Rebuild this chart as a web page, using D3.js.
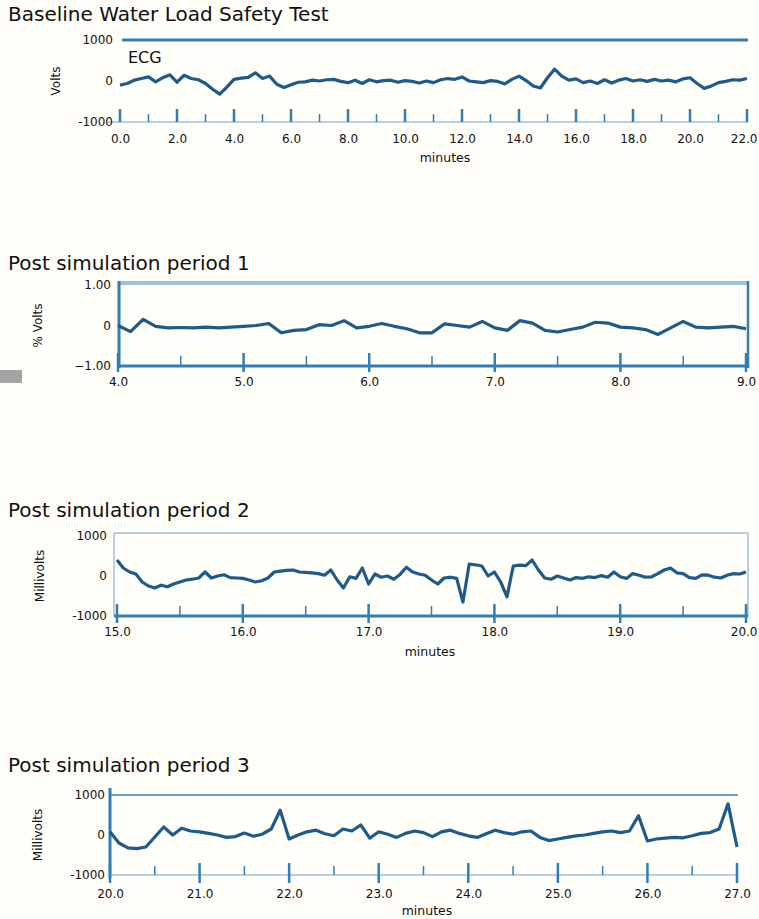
<!DOCTYPE html>
<html><head><meta charset="utf-8">
<script src="https://cdn.jsdelivr.net/npm/d3@7"></script>
<style>
body{margin:0;background:#fffef8}
svg{display:block}
text{font-family:"DejaVu Sans","Liberation Sans",Arial,sans-serif;fill:#111}
</style></head>
<body><svg id="c" width="759" height="919"></svg>
<script>
// ---------- data ----------
const panelTitles = ["Baseline Water Load Safety Test","Post simulation period 1","Post simulation period 2","Post simulation period 3"];
const yTitles = ["Volts","% Volts","Millivolts","Millivolts"];
const xTitle = "minutes";
const channelLabel = "ECG";

const baselineTicks = [0,2,4,6,8,10,12,14,16,18,20,22];
const period1Ticks = [4,5,6,7,8,9];
const period2Ticks = [15,16,17,18,19,20];
const period3Ticks = [20,21,22,23,24,25,26,27];

const baselineYTicks = [-1000,0,1000];
const period1YTicks = [-1,0,1];
const period2YTicks = [-1000,0,1000];
const period3YTicks = [-1000,0,1000];

// sampled every 0.25 min from 0
const baselineValues = [-100,-60,20,60,100,-20,80,150,-30,140,60,30,-60,-200,-320,-150,40,70,90,200,60,120,-80,-160,-90,-30,-20,20,0,30,40,-10,-40,20,-60,30,-20,10,20,-30,10,-10,-50,0,-40,30,60,40,100,0,-20,-40,10,-10,-70,40,120,10,-120,-170,80,290,120,20,50,-40,0,-60,30,-50,20,60,0,30,-10,40,0,20,-20,50,80,-60,-180,-120,-40,-10,30,20,60];
// sampled every 0.1 min from 4
const period1Values = [0,-0.15,0.15,-0.02,-0.06,-0.05,-0.06,-0.04,-0.06,-0.04,-0.02,0,0.05,-0.18,-0.12,-0.1,0.02,0,0.12,-0.06,-0.02,0.05,-0.02,-0.08,-0.18,-0.18,0.04,0,-0.04,0.1,-0.06,-0.12,0.12,0.06,-0.12,-0.16,-0.1,-0.04,0.08,0.06,-0.04,-0.06,-0.1,-0.22,-0.06,0.1,-0.04,-0.06,-0.04,-0.02,-0.08];
// sampled every 0.05 min from 15
const period2Values = [400,200,100,50,-150,-250,-300,-230,-270,-200,-150,-100,-80,-50,100,-50,0,30,-40,-50,-60,-100,-150,-120,-50,100,120,140,150,100,90,80,60,20,150,-100,-300,-20,-60,200,-200,50,-30,0,-80,40,220,100,50,20,-100,-200,-50,-30,-60,-650,300,280,250,0,100,-150,-520,250,270,260,400,150,-50,-80,0,-50,-100,-40,-60,-20,-40,10,-30,100,-20,-60,60,20,-30,-20,60,150,200,80,60,-40,-60,30,20,-30,-50,20,60,50,100];
// sampled every 0.1 min from 20
const period3Values = [80,-200,-320,-340,-300,-50,200,0,170,100,80,40,0,-60,-40,50,-30,20,150,620,-100,0,80,120,30,-20,150,100,250,-80,80,20,-60,40,100,60,-40,80,120,40,-20,-60,30,120,60,20,80,100,-60,-140,-100,-60,-20,0,40,80,100,60,100,480,-150,-100,-80,-60,-70,-20,40,60,150,780,-300];

// ---------- drawing ----------
const svg = d3.select("#c");
svg.append("rect").attr("width",759).attr("height",919).attr("fill","#fffef8");

const LINE = "#1d5b8c", AX = "#2f7fb6", LIGHT = "#9ec0e2";
const FONT = "DejaVu Sans, Liberation Sans, Arial";

function drawPanel(o){
  const g = svg.append("g");
  const x = d3.scaleLinear().domain([o.ticks[0], o.ticks[o.ticks.length-1]]).range([o.left,o.right]);
  const y = d3.scaleLinear().domain([o.yTicks[0], o.yTicks[o.yTicks.length-1]]).range([o.bottom,o.top]);

  g.append("text").attr("x",8).attr("y",o.titleY).attr("font-size",20).text(o.title);

  (o.frame||[]).forEach(f=>{
    g.append("line").attr("x1",f.x1).attr("x2",f.x2).attr("y1",f.y1).attr("y2",f.y2)
      .attr("stroke",f.c).attr("stroke-width",f.w);
  });

  const mids = o.ticks.slice(1).map((t,i)=>(t+o.ticks[i])/2);
  g.selectAll(".maj").data(o.ticks).join("line")
    .attr("x1",d=>x(d)).attr("x2",d=>x(d)).attr("y1",o.bottom-o.majUp).attr("y2",o.bottom+o.majDown)
    .attr("stroke",AX).attr("stroke-width",2.5);
  g.selectAll(".min").data(mids).join("line")
    .attr("x1",d=>x(d)).attr("x2",d=>x(d)).attr("y1",o.bottom-o.minUp).attr("y2",o.bottom)
    .attr("stroke",AX).attr("stroke-width",1.5);

  const line = d3.line().x((d,i)=>x(o.x0+i*o.step)).y(d=>y(d));
  g.append("path").datum(o.values).attr("d",line).attr("fill","none")
    .attr("stroke",LINE).attr("stroke-width",3.2).attr("stroke-linejoin","round");

  const xa = g.append("g").attr("transform",`translate(0,${o.bottom})`)
    .call(d3.axisBottom(x).tickValues(o.ticks).tickFormat(d3.format(".1f")).tickSize(0).tickPadding(o.xPad));
  xa.select(".domain").remove();
  xa.selectAll("text").attr("font-size",12).style("font-family",FONT).attr("fill","#111");
  // keep the last label inside the page
  const last = xa.selectAll(".tick").filter((d,i,n)=>i===n.length-1).select("text");
  const bb = last.node().getBBox();
  const overflow = x(o.ticks[o.ticks.length-1]) + bb.width/2 - 757;
  if (overflow > 0) last.attr("dx", -overflow);

  const ya = g.append("g").attr("transform",`translate(${o.yLabX},0)`)
    .call(d3.axisLeft(y).tickValues(o.yTicks).tickFormat(o.yFmt).tickSize(0).tickPadding(0));
  ya.select(".domain").remove();
  ya.selectAll("text").attr("font-size",12).style("font-family",FONT).attr("fill","#111");

  g.append("text").attr("transform",`translate(${o.yTitleX},${(o.top+o.bottom)/2}) rotate(-90)`)
    .attr("text-anchor","middle").attr("font-size",12).text(o.yTitle);
  if(o.xTitleY) g.append("text").attr("x",o.xTitleX).attr("y",o.xTitleY).attr("text-anchor","middle")
    .attr("font-size",12.5).text(xTitle);
  return {g,x,y};
}

const fmtK = d=> d===0 ? "0" : String(d);
const fmt2 = d=> d===0 ? "0" : d3.format(".2f")(d);

// Panel 1
const p1 = drawPanel({title:panelTitles[0],titleY:21,left:120,right:747,top:40,bottom:122,
  ticks:baselineTicks,yTicks:baselineYTicks,values:baselineValues,x0:0,step:0.25,
  majUp:13,majDown:0,minUp:8,xPad:12,yLabX:113,yFmt:fmtK,yTitle:yTitles[0],yTitleX:60,
  xTitleX:445,xTitleY:162,
  frame:[{x1:108,x2:748,y1:122,y2:122,c:LIGHT,w:1.5},{x1:122,x2:748,y1:40,y2:40,c:AX,w:3}]});
p1.g.append("text").attr("x",128).attr("y",63).attr("font-size",16).text(channelLabel);

// Panel 2
drawPanel({title:panelTitles[1],titleY:270,left:118,right:746,top:285,bottom:366,
  ticks:period1Ticks,yTicks:period1YTicks,values:period1Values,x0:4,step:0.1,
  majUp:13,majDown:6,minUp:10,xPad:11,yLabX:111,yFmt:fmt2,yTitle:yTitles[1],yTitleX:42,
  frame:[{x1:118,x2:749,y1:283,y2:283,c:LIGHT,w:4},{x1:119,x2:119,y1:281,y2:368,c:AX,w:3},
         {x1:748,x2:748,y1:281,y2:368,c:AX,w:2.5},{x1:117,x2:749,y1:366,y2:366,c:AX,w:3}]});
svg.append("rect").attr("x",0).attr("y",370).attr("width",22).attr("height",13).attr("fill","#a3a3a3");

// Panel 3
drawPanel({title:panelTitles[2],titleY:517,left:117,right:746,top:536,bottom:616,
  ticks:period2Ticks,yTicks:period2YTicks,values:period2Values,x0:15,step:0.05,
  majUp:12,majDown:7,minUp:10,xPad:11,yLabX:107,yFmt:fmtK,yTitle:yTitles[2],yTitleX:44,
  xTitleX:430,xTitleY:656,
  frame:[{x1:114,x2:748,y1:533,y2:533,c:LIGHT,w:1.5},{x1:114,x2:114,y1:533,y2:616,c:LIGHT,w:1.5},
         {x1:748,x2:748,y1:533,y2:616,c:LIGHT,w:1.5},{x1:114,x2:748,y1:616,y2:616,c:AX,w:3}]});

// Panel 4
drawPanel({title:panelTitles[3],titleY:772,left:110,right:737,top:795,bottom:875,
  ticks:period3Ticks,yTicks:period3YTicks,values:period3Values,x0:20,step:0.1,
  majUp:12,majDown:8,minUp:9,xPad:14,yLabX:105,yFmt:fmtK,yTitle:yTitles[3],yTitleX:42,
  xTitleX:427,xTitleY:915,
  frame:[{x1:110,x2:738,y1:795,y2:795,c:AX,w:1.5},{x1:110,x2:110,y1:788,y2:878,c:AX,w:3},
         {x1:110,x2:738,y1:875,y2:875,c:LIGHT,w:1.5}]});
</script></body></html>
